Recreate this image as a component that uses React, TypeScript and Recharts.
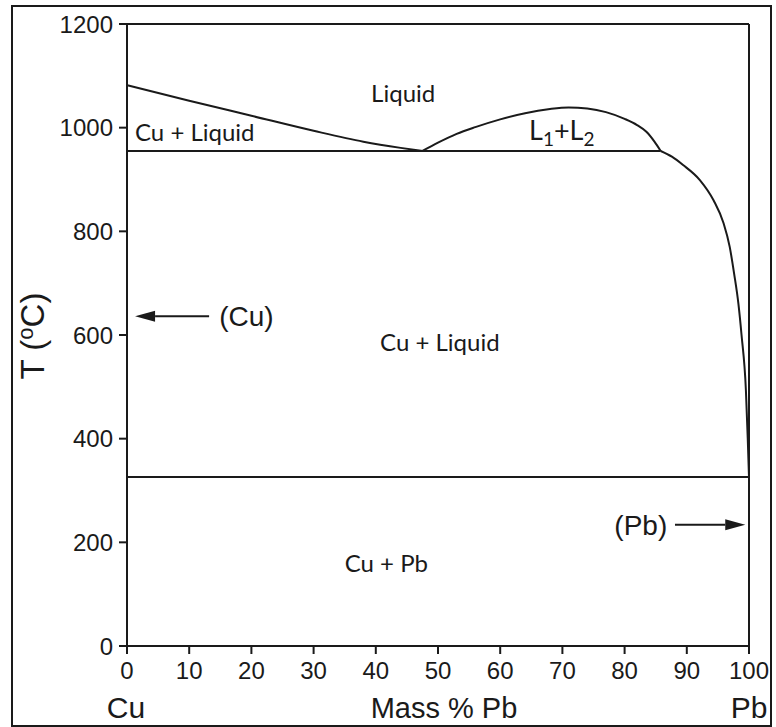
import React from "react"
import {
    ComposedChart,
    Line,
    XAxis,
    YAxis,
    ReferenceLine,
    ReferenceDot,
} from "recharts"

// axis ticks
const pbTicks = [0, 10, 20, 30, 40, 50, 60, 70, 80, 90, 100]
const tempTicks = [0, 200, 400, 600, 800, 1000, 1200]

// phase boundaries (mass % Pb, temperature in C)
const cuLiquidus = [
    { pb: 0, t: 1082 },
    { pb: 10, t: 1052 },
    { pb: 20, t: 1023 },
    { pb: 30, t: 994 },
    { pb: 38, t: 973 },
    { pb: 44, t: 961 },
    { pb: 47.5, t: 955 },
]

const miscibilityGap = [
    { pb: 47.5, t: 955 },
    { pb: 50, t: 971 },
    { pb: 53, t: 988 },
    { pb: 56, t: 1001 },
    { pb: 60, t: 1016 },
    { pb: 64, t: 1028 },
    { pb: 68, t: 1036 },
    { pb: 71, t: 1039 },
    { pb: 74, t: 1037 },
    { pb: 77, t: 1030 },
    { pb: 80, t: 1017 },
    { pb: 82, t: 1005 },
    { pb: 83.5, t: 992 },
    { pb: 84.8, t: 973 },
    { pb: 85.8, t: 955 },
]

const pbLiquidus = [
    { pb: 85.8, t: 955 },
    { pb: 87.6, t: 944 },
    { pb: 89.4, t: 928 },
    { pb: 92.1, t: 899 },
    { pb: 94.3, t: 860 },
    { pb: 95.9, t: 816 },
    { pb: 96.9, t: 770 },
    { pb: 97.6, t: 719 },
    { pb: 98.3, t: 660 },
    { pb: 98.8, t: 600 },
    { pb: 99.5, t: 494 },
    { pb: 99.8, t: 400 },
    { pb: 100, t: 326 },
]

const monotectic = [
    { pb: 0, t: 955 },
    { pb: 85.8, t: 955 },
]

const eutectic = [
    { pb: 0, t: 326 },
    { pb: 100, t: 326 },
]

// region names
const regionLabels = [
    { text: "Liquid", pb: 44.4, t: 1065 },
    { text: "Cu + Liquid", pb: 10.9, t: 990 },
    { text: "Cu + Liquid", pb: 50.3, t: 586 },
    { text: "Cu + Pb", pb: 41.7, t: 159 },
]

const INK = "#1a1a1a"
const TICK_FONT = "'Liberation Sans', Arial, sans-serif"
const LABEL_FONT = "Lato, 'Open Sans', sans-serif"

function RegionText(props: any) {
    const { viewBox, text } = props
    const cx = viewBox.x + viewBox.width / 2
    const cy = viewBox.y + viewBox.height / 2
    return (
        <text x={cx} y={cy + 8.5} textAnchor="middle" fontSize={24} fontFamily={LABEL_FONT} fill={INK}>
            {text}
        </text>
    )
}

function L1L2Text(props: any) {
    const { viewBox } = props
    const cx = viewBox.x + viewBox.width / 2
    const cy = viewBox.y + viewBox.height / 2
    return (
        <text x={cx} y={cy + 9} textAnchor="middle" fontSize={27} fontFamily={LABEL_FONT} fill={INK}>
            <tspan>L</tspan>
            <tspan fontSize={19} dy={6}>1</tspan>
            <tspan dy={-6}>+L</tspan>
            <tspan fontSize={19} dy={6}>2</tspan>
        </text>
    )
}

function PhaseText(props: any) {
    const { viewBox, text } = props
    const cx = viewBox.x + viewBox.width / 2
    const cy = viewBox.y + viewBox.height / 2
    return (
        <text x={cx} y={cy + 10} textAnchor="middle" fontSize={28} fontFamily={TICK_FONT} fill={INK}>
            {text}
        </text>
    )
}

function Arrow(props: any) {
    const { x1, y1, x2, y2 } = props
    const dx = x2 - x1
    const dy = y2 - y1
    const len = Math.sqrt(dx * dx + dy * dy) || 1
    const ux = dx / len
    const uy = dy / len
    const head = 20
    const half = 5.5
    const bx = x2 - ux * head
    const by = y2 - uy * head
    return (
        <g>
            <line x1={x1} y1={y1} x2={bx} y2={by} stroke={INK} strokeWidth={2} />
            <polygon
                points={`${x2},${y2} ${bx - uy * half},${by + ux * half} ${bx + uy * half},${by - ux * half}`}
                fill={INK}
            />
        </g>
    )
}

function BottomLabels(props: any) {
    const { viewBox } = props
    const base = viewBox.y + 72
    const left = viewBox.x
    const right = viewBox.x + viewBox.width
    return (
        <g fontFamily={TICK_FONT} fill={INK}>
            <text x={left - 1} y={base} textAnchor="middle" fontSize={30}>Cu</text>
            <text x={444} y={base} textAnchor="middle" fontSize={29}>Mass % Pb</text>
            <text x={right} y={base} textAnchor="middle" fontSize={30}>Pb</text>
        </g>
    )
}

function TempLabel() {
    return (
        <text
            x={0}
            y={0}
            transform="translate(44, 336) rotate(-90)"
            textAnchor="middle"
            fontSize={33}
            fontFamily={TICK_FONT}
            fill={INK}
        >
            <tspan>T (</tspan>
            <tspan fontSize={22} dy={-11}>o</tspan>
            <tspan dy={11}>C)</tspan>
        </text>
    )
}

const tickStyle = { fontSize: 24, fill: INK, fontFamily: TICK_FONT }
const axisStroke = { stroke: INK, strokeWidth: 2 }

export default function App() {
    return (
        <div style={{ position: "absolute", left: 0, top: 0, width: 776, height: 727, background: "#fff" }}>
            <div
                style={{
                    position: "absolute",
                    left: 11,
                    top: 5,
                    width: 761,
                    height: 722,
                    border: `2px solid ${INK}`,
                    boxSizing: "border-box",
                }}
            />
            <div style={{ position: "absolute", left: 0, top: 0 }}>
                <ComposedChart width={776} height={727} margin={{ top: 14, right: 12, left: 67, bottom: 0 }}>
                    <XAxis
                        xAxisId={0}
                        dataKey="pb"
                        type="number"
                        domain={[0, 100]}
                        ticks={pbTicks}
                        height={81}
                        tick={tickStyle}
                        tickSize={8}
                        tickMargin={8}
                        axisLine={axisStroke}
                        tickLine={axisStroke}
                        label={{ content: (p: any) => <BottomLabels {...p} /> }}
                    />
                    <XAxis
                        xAxisId="top"
                        orientation="top"
                        type="number"
                        domain={[0, 100]}
                        ticks={pbTicks}
                        height={10}
                        tickSize={8}
                        tickFormatter={() => ""}
                        axisLine={axisStroke}
                        tickLine={axisStroke}
                    />
                    <YAxis
                        yAxisId={0}
                        type="number"
                        domain={[0, 1200]}
                        ticks={tempTicks}
                        width={60}
                        tick={tickStyle}
                        tickSize={8}
                        tickMargin={6}
                        axisLine={axisStroke}
                        tickLine={axisStroke}
                        label={{ content: () => <TempLabel /> }}
                    />
                    <YAxis
                        yAxisId="right"
                        orientation="right"
                        type="number"
                        domain={[0, 1200]}
                        ticks={tempTicks}
                        width={15}
                        tickSize={8}
                        tickFormatter={() => ""}
                        axisLine={axisStroke}
                        tickLine={axisStroke}
                    />

                    <Line data={cuLiquidus} dataKey="t" type="monotone" stroke={INK} strokeWidth={2} dot={false} isAnimationActive={false} />
                    <Line data={miscibilityGap} dataKey="t" type="monotone" stroke={INK} strokeWidth={2} dot={false} isAnimationActive={false} />
                    <Line data={pbLiquidus} dataKey="t" type="monotone" stroke={INK} strokeWidth={2} dot={false} isAnimationActive={false} />
                    <Line data={monotectic} dataKey="t" type="linear" stroke={INK} strokeWidth={2} dot={false} isAnimationActive={false} />
                    <Line data={eutectic} dataKey="t" type="linear" stroke={INK} strokeWidth={2} dot={false} isAnimationActive={false} />

                    {regionLabels.map((r, i) => (
                        <ReferenceDot
                            key={i}
                            x={r.pb}
                            y={r.t}
                            r={0}
                            fill="none"
                            stroke="none"
                            label={{ content: (p: any) => <RegionText {...p} text={r.text} /> }}
                        />
                    ))}
                    <ReferenceDot
                        x={69.9}
                        y={994}
                        r={0}
                        fill="none"
                        stroke="none"
                        label={{ content: (p: any) => <L1L2Text {...p} /> }}
                    />
                    <ReferenceDot
                        x={19.2}
                        y={637}
                        r={0}
                        fill="none"
                        stroke="none"
                        label={{ content: (p: any) => <PhaseText {...p} text="(Cu)" /> }}
                    />
                    <ReferenceDot
                        x={82.6}
                        y={234}
                        r={0}
                        fill="none"
                        stroke="none"
                        label={{ content: (p: any) => <PhaseText {...p} text="(Pb)" /> }}
                    />
                    <ReferenceLine
                        segment={[{ x: 13.2, y: 636 }, { x: 1.3, y: 636 }]}
                        shape={(p: any) => <Arrow {...p} />}
                    />
                    <ReferenceLine
                        segment={[{ x: 88.1, y: 234 }, { x: 99.4, y: 234 }]}
                        shape={(p: any) => <Arrow {...p} />}
                    />
                </ComposedChart>
            </div>
        </div>
    )
}
